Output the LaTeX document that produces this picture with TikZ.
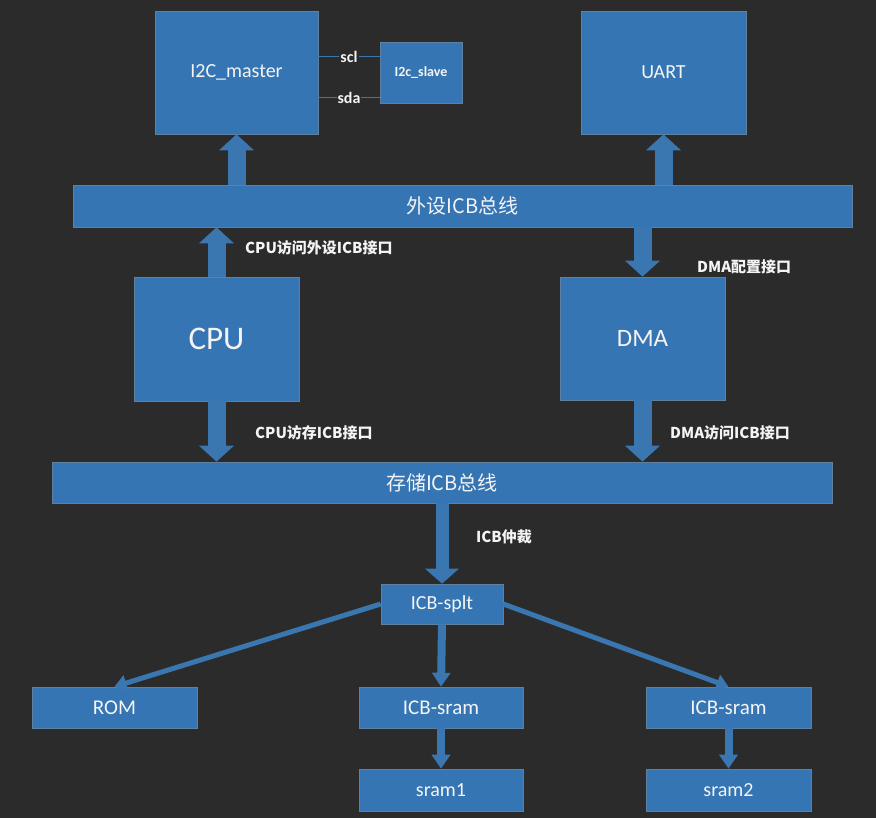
\documentclass[tikz,border=0pt]{standalone}
\usepackage{fontspec}
\setmainfont{Carlito}
\newfontfamily\cjk{Noto Sans CJK SC}
\usetikzlibrary{arrows.meta}
\definecolor{bg}{HTML}{2B2B2B}
\definecolor{boxblue}{HTML}{3675B4}
\definecolor{boxedge}{HTML}{6080A0}
\definecolor{arrblue}{HTML}{3A76AF}
\definecolor{txt}{HTML}{F4F4F4}
\tikzset{
  blk/.style={draw=boxedge, line width=0.6pt, fill=boxblue, text=txt, inner sep=0pt, anchor=center},
  bigarrow/.style={draw=arrblue, line width=18pt, -{Triangle[width=34pt,length=16pt]}},
  midarrow/.style={draw=arrblue, line width=13pt, -{Triangle[width=33pt,length=15pt]}},
  thinarrow/.style={draw=arrblue, line width=5pt, -{Triangle[width=16pt,length=12pt]}},
  vthinarrow/.style={draw=arrblue, line width=8pt, -{Triangle[width=18pt,length=14pt]}},
  sig/.style={draw=arrblue, line width=1pt},
  lbl/.style={text=txt, font=\cjk\bfseries\fontsize{15}{18}\selectfont, anchor=west, inner sep=0pt},
  siglbl/.style={text=txt, fill=bg, font=\bfseries\fontsize{16}{18}\selectfont, inner sep=1pt},
}
\begin{document}
\begin{tikzpicture}[x=1pt,y=-1pt]
\fill[bg] (0,0) rectangle (876,818);
\useasboundingbox (0,0) rectangle (876,818);

% top row
\node[blk, minimum width=163pt, minimum height=123pt, font=\fontsize{20}{24}\selectfont] (i2cm) at (236.5,72.5) {I2C\_master};
\node[blk, minimum width=82pt, minimum height=61pt, font=\bfseries\fontsize{14}{16}\selectfont] (slave) at (421,72.5) {I2c\_slave};
\node[blk, minimum width=165pt, minimum height=123pt, font=\fontsize{20}{24}\selectfont] (uart) at (663.5,72.5) {UART};

% I2C signals
\coordinate (sclL) at (i2cm.east |- 0,57);
\coordinate (sclR) at (slave.west |- 0,57);
\coordinate (sdaL) at (i2cm.east |- 0,98);
\coordinate (sdaR) at (slave.west |- 0,98);
\draw[sig] (sclL) -- node[siglbl] (scl) {scl} (sclR);
\draw[sig] (sdaL) -- node[siglbl] (sda) {sda} (sdaR);

% peripheral bus
\node[blk, minimum width=779pt, minimum height=42pt, font=\cjk\fontsize{20}{24}\selectfont] (pbus) at (462.5,206) {外设ICB总线};

% CPU and DMA
\node[blk, minimum width=165pt, minimum height=124pt, font=\fontsize{33}{38}\selectfont] (cpu) at (216.5,339) {CPU};
\node[blk, minimum width=165pt, minimum height=123pt, font=\fontsize{25}{30}\selectfont] (dma) at (642.5,338.5) {DMA};

% memory bus
\node[blk, minimum width=780pt, minimum height=41pt, font=\cjk\fontsize{20}{24}\selectfont] (mbus) at (442,482.5) {存储ICB总线};

% split and memories
\node[blk, minimum width=122pt, minimum height=40pt, font=\fontsize{20}{24}\selectfont] (splt) at (442,604) {ICB-splt};
\node[blk, minimum width=165pt, minimum height=41pt, font=\fontsize{21}{24}\selectfont] (rom) at (114.5,707.5) {ROM};
\node[blk, minimum width=164pt, minimum height=41pt, font=\fontsize{21}{24}\selectfont] (isr1) at (441,707.5) {ICB-sram};
\node[blk, minimum width=165pt, minimum height=41pt, font=\fontsize{21}{24}\selectfont] (isr2) at (728.5,707.5) {ICB-sram};
\node[blk, minimum width=164pt, minimum height=42pt, font=\fontsize{20}{24}\selectfont] (sram1) at (441,790) {sram1};
\node[blk, minimum width=165pt, minimum height=42pt, font=\fontsize{20}{24}\selectfont] (sram2) at (728.5,790) {sram2};

% block arrows
\draw[bigarrow] (pbus.north -| i2cm.south) -- (i2cm.south);
\draw[bigarrow] (pbus.north -| uart.south) -- (uart.south);
\draw[bigarrow] (cpu.north) -- (pbus.south -| cpu.north);
\draw[bigarrow] (cpu.south) -- (mbus.north -| cpu.south);
\draw[bigarrow] (pbus.south -| dma.north) -- (dma.north);
\draw[bigarrow] (dma.south) -- (mbus.north -| dma.south);
\draw[midarrow] (mbus.south -| splt.north) -- (splt.north);

% split arrows
\draw[thinarrow] (splt.west) -- (rom.north);
\draw[vthinarrow] (splt.south) -- (isr1.north);
\draw[thinarrow] (splt.east) -- (isr2.north);
\draw[vthinarrow] (isr1.south) -- (sram1.north);
\draw[vthinarrow] (isr2.south) -- (sram2.north);

% labels
\node[lbl] (l1) at (245,248) {CPU访问外设ICB接口};
\node[lbl] (l2) at (255,433) {CPU访存ICB接口};
\node[lbl] (l3) at (697,267) {DMA配置接口};
\node[lbl] (l4) at (670,433) {DMA访问ICB接口};
\node[lbl] (l5) at (476,537) {ICB仲裁};
\end{tikzpicture}
\end{document}
